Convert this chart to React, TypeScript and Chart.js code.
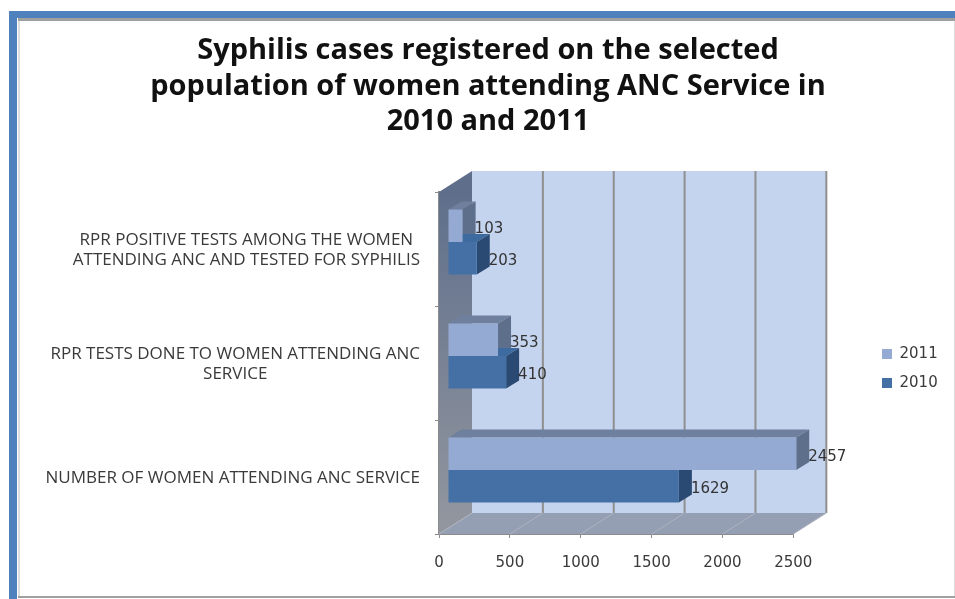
import { useEffect, useRef } from "react";
import { Chart, registerables } from "chart.js";

Chart.register(...registerables);

const titleLines = [
  "Syphilis cases registered on the selected",
  "population of women attending ANC Service in",
  "2010 and 2011",
];
const categories = [
  ["RPR POSITIVE TESTS AMONG THE WOMEN", "ATTENDING ANC AND TESTED FOR SYPHILIS"],
  ["RPR TESTS DONE TO WOMEN ATTENDING ANC", "SERVICE"],
  ["NUMBER OF WOMEN ATTENDING ANC SERVICE"],
];
const values2011 = [103, 353, 2457];
const values2010 = [203, 410, 1629];
const xTicks = [0, 500, 1000, 1500, 2000, 2500];

const FONT = "'Open Sans', sans-serif";
const NUM_FONT = "'DejaVu Sans', sans-serif";
const WALL_DX = 33;
const WALL_DY = -21;
const BAR_DX = 9;
const BAR_DY = -7;
const BAR_DEPTH_X = 13;
const BAR_DEPTH_Y = -8;

const faces = [
  { top: "#6F809F", side: "#5E6F8C" },
  { top: "#3D6A9F", side: "#2A4A73" },
];

function poly(ctx: CanvasRenderingContext2D, pts: number[][], fill: string | CanvasGradient) {
  ctx.beginPath();
  pts.forEach(([x, y], i) => (i ? ctx.lineTo(x, y) : ctx.moveTo(x, y)));
  ctx.closePath();
  ctx.fillStyle = fill;
  ctx.fill();
}

// Slide frame behind the chart
const framePlugin = {
  id: "frame",
  beforeDraw(chart: any) {
    const { ctx, width, height } = chart;
    ctx.save();
    ctx.fillStyle = "#ffffff";
    ctx.fillRect(0, 0, width, height);
    ctx.fillStyle = "#4F81BD";
    ctx.fillRect(9, 11, 8, height - 11);
    ctx.fillRect(9, 11, width - 9, 7);
    ctx.fillStyle = "#A0A0A0";
    ctx.fillRect(18, 18, width - 18, 3);
    ctx.fillRect(18, 596, width - 18, 2);
    ctx.fillStyle = "#DCDCDC";
    ctx.fillRect(18, 21, 2, 575);
    ctx.fillRect(954, 21, 1, 575);
    ctx.restore();
  },
};

// Box walls, floor, bar depth faces; the bars themselves sit on a shifted plane
const depthPlugin = {
  id: "depth",
  afterLayout(chart: any) {
    const legend = chart.legend;
    legend.left = 868;
    legend.right = 955;
    legend.top += 69;
    legend.bottom += 69;
  },
  beforeDatasetsDraw(chart: any) {
    const { ctx, scales } = chart;
    const { left, right, top, bottom } = chart.chartArea;
    ctx.save();
    const wall = ctx.createLinearGradient(0, top, 0, bottom);
    wall.addColorStop(0, "#5F6F8B");
    wall.addColorStop(1, "#93979F");
    poly(ctx, [[left, top], [left + WALL_DX, top + WALL_DY], [left + WALL_DX, bottom + WALL_DY], [left, bottom]], wall);
    poly(ctx, [[left, bottom], [left + WALL_DX, bottom + WALL_DY], [right + WALL_DX, bottom + WALL_DY], [right, bottom]], "#959FB4");
    ctx.fillStyle = "#C4D4EF";
    ctx.fillRect(left + WALL_DX, top + WALL_DY, right - left, bottom - top);
    xTicks.forEach((t) => {
      const x = scales.x.getPixelForValue(t);
      ctx.strokeStyle = "#8F8F8F";
      ctx.lineWidth = 2;
      if (t > 0) {
        ctx.beginPath();
        ctx.moveTo(x + WALL_DX, top + WALL_DY);
        ctx.lineTo(x + WALL_DX, bottom + WALL_DY);
        ctx.stroke();
      }
      ctx.strokeStyle = "#AEB3BE";
      ctx.lineWidth = 1;
      ctx.beginPath();
      ctx.moveTo(x, bottom);
      ctx.lineTo(x + WALL_DX, bottom + WALL_DY);
      ctx.stroke();
    });
    chart.data.datasets.forEach((_: any, d: number) => {
      chart.getDatasetMeta(d).data.forEach((bar: any) => {
        const x0 = bar.base + BAR_DX;
        const x1 = bar.x + BAR_DX;
        const y0 = bar.y - bar.height / 2 + BAR_DY;
        const y1 = bar.y + bar.height / 2 + BAR_DY;
        poly(ctx, [[x0, y0], [x0 + BAR_DEPTH_X, y0 + BAR_DEPTH_Y], [x1 + BAR_DEPTH_X, y0 + BAR_DEPTH_Y], [x1, y0]], faces[d].top);
        poly(ctx, [[x1, y0], [x1 + BAR_DEPTH_X, y0 + BAR_DEPTH_Y], [x1 + BAR_DEPTH_X, y1 + BAR_DEPTH_Y], [x1, y1]], faces[d].side);
      });
    });
    ctx.restore();
    ctx.save();
    ctx.translate(BAR_DX, BAR_DY);
  },
  afterDatasetsDraw(chart: any) {
    const { ctx } = chart;
    ctx.restore();
    ctx.save();
    ctx.font = `15px ${NUM_FONT}`;
    ctx.fillStyle = "#333333";
    ctx.textAlign = "left";
    ctx.textBaseline = "middle";
    chart.data.datasets.forEach((ds: any, d: number) => {
      chart.getDatasetMeta(d).data.forEach((bar: any, i: number) => {
        ctx.fillText(String(ds.data[i]), bar.x + BAR_DX + BAR_DEPTH_X - 1, bar.y + BAR_DY + 3);
      });
    });
    // Category captions: each block centred on itself, right edge against the axis
    ctx.font = `17px ${FONT}`;
    ctx.fillStyle = "#3A3A3A";
    ctx.textAlign = "center";
    const yScale = chart.scales.y;
    categories.forEach((lines, i) => {
      const widest = Math.max(...lines.map((l) => ctx.measureText(l).width));
      const cx = 420 - widest / 2;
      const cy = yScale.getPixelForValue(i) + 1;
      lines.forEach((l, k) => ctx.fillText(l, cx, cy + (k - (lines.length - 1) / 2) * 20));
    });
    ctx.restore();
  },
};

export default function App() {
  const ref = useRef<HTMLCanvasElement>(null);
  useEffect(() => {
    const chart = new Chart(ref.current as HTMLCanvasElement, {
      type: "bar",
      data: {
        labels: categories as any,
        datasets: [
          { label: "2011", data: values2011, backgroundColor: "#95AAD2", barPercentage: 1, categoryPercentage: 0.57 },
          { label: "2010", data: values2010, backgroundColor: "#4470A5", barPercentage: 1, categoryPercentage: 0.57 },
        ],
      },
      plugins: [framePlugin, depthPlugin],
      options: {
        indexAxis: "y",
        responsive: false,
        animation: false,
        layout: { padding: { left: 103, right: 82, top: 0, bottom: 0 } },
        scales: {
          x: {
            min: 0,
            max: 2500,
            afterFit: (s: any) => { s.height = 65; },
            ticks: {
              stepSize: 500,
              maxRotation: 0,
              padding: 16,
              color: "#3A3A3A",
              font: { family: NUM_FONT, size: 15 },
              callback: (v: any) => String(v),
            },
            grid: { drawOnChartArea: false, drawTicks: true, tickLength: 4, color: "#8C8C8C" },
            border: { color: "#8C8C8C", width: 2 },
          },
          y: {
            afterFit: (s: any) => { s.width = 336; },
            ticks: { display: false },
            grid: { drawOnChartArea: false, drawTicks: true, tickLength: 4, color: "#8C8C8C" },
            border: { color: "#8C8C8C", width: 2 },
          },
        },
        plugins: {
          tooltip: { enabled: false },
          title: {
            display: true,
            text: titleLines,
            color: "#111111",
            font: { family: FONT, size: 29, weight: "bold", lineHeight: 35.5 / 29 },
            padding: { top: 33, bottom: 52.5 },
          },
          legend: {
            position: "right",
            onClick: undefined,
            labels: {
              boxWidth: 10,
              boxHeight: 10,
              padding: 14,
              color: "#3A3A3A",
              font: { family: NUM_FONT, size: 15 },
            },
          },
        },
      } as any,
    });
    return () => chart.destroy();
  }, []);
  return (
    <div style={{ position: "absolute", left: 0, top: 0, width: 955, height: 599 }}>
      <canvas ref={ref} width={955} height={599} style={{ display: "block" }} />
    </div>
  );
}
